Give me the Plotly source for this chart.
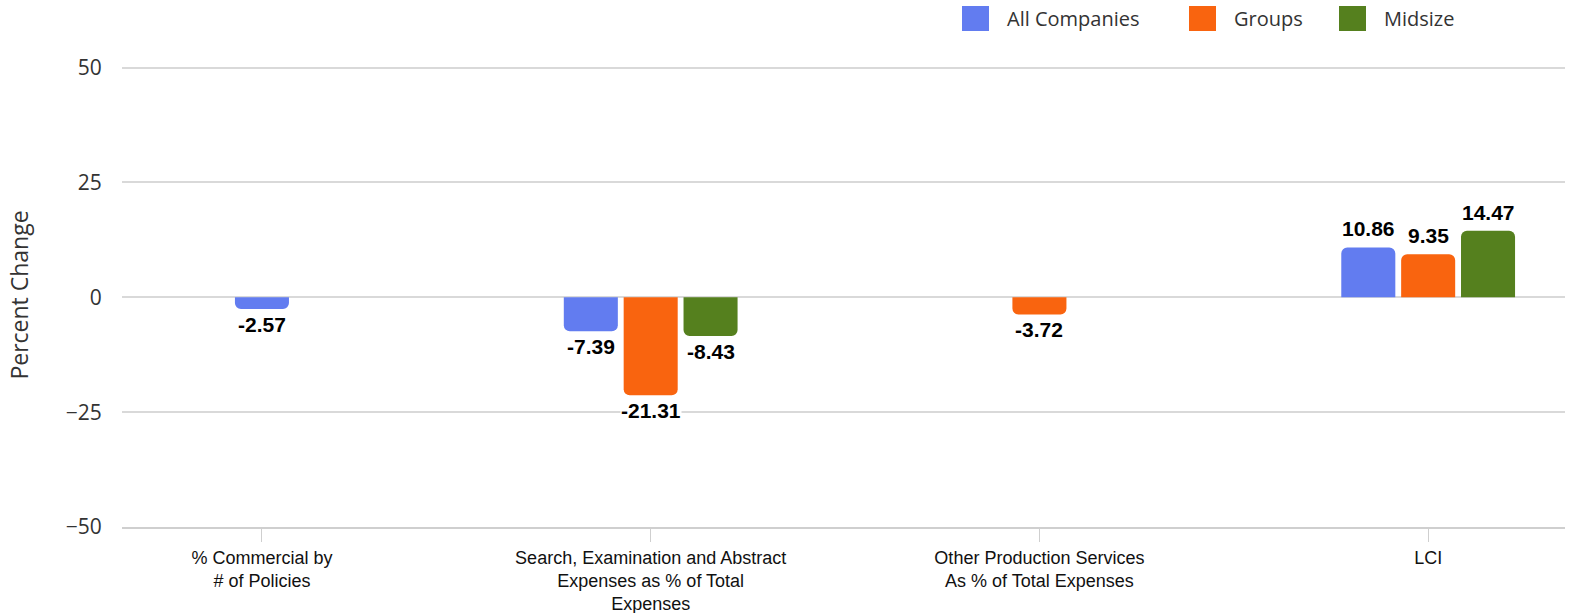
import plotly.graph_objects as go

# Categories and series values (percent change)
categories = [
    "% Commercial by<br># of Policies",
    "Search, Examination and Abstract<br>Expenses as % of Total<br>Expenses",
    "Other Production Services<br>As % of Total Expenses",
    "LCI",
]
series_names = ["All Companies", "Groups", "Midsize"]
all_companies = [-2.57, -7.39, None, 10.86]
groups = [None, -21.31, -3.72, 9.35]
midsize = [None, -8.43, None, 14.47]
series_values = [all_companies, groups, midsize]
series_colors = ["#627CF0", "#F9640F", "#55801E"]
y_ticks = [-50, -25, 0, 25, 50]

W, H = 1574, 613
M_L, M_R, M_T, M_B = 122, 9, 63, 86
PLOT_W = W - M_L - M_R
PLOT_H = H - M_T - M_B

BAR_W = 0.139   # width of one bar in category units
SLOT = 0.154    # spacing between bars within a category

# Bars present in each category are centred on the category
offsets = [[None] * len(categories) for _ in series_values]
for i in range(len(categories)):
    present = [s for s, vals in enumerate(series_values) if vals[i] is not None]
    k = len(present)
    for j, s in enumerate(present):
        offsets[s][i] = (j - (k - 1) / 2) * SLOT - BAR_W / 2

fig = go.Figure()
annotations = []
x_idx = list(range(len(categories)))
for s, (name, vals, color) in enumerate(zip(series_names, series_values, series_colors)):
    xs = [i for i in x_idx if vals[i] is not None]
    ys = [vals[i] for i in xs]
    offs = [offsets[s][i] for i in xs]
    fig.add_trace(go.Bar(
        x=xs, y=ys, name=name, width=BAR_W, offset=offs,
        marker=dict(color=color, line=dict(width=0)),
        showlegend=False, hoverinfo="y",
    ))
    for xi, yv, off in zip(xs, ys, offs):
        annotations.append(dict(
            x=xi + off + BAR_W / 2, y=yv, xref="x", yref="y",
            text=f"<b>{yv:.2f}</b>", showarrow=False,
            yanchor="bottom" if yv >= 0 else "top",
            yshift=6 if yv >= 0 else -3,
            bgcolor="white", borderpad=0,
            font=dict(family="Liberation Sans, Arial", size=21, color="#000000"),
        ))


def px_x(px):
    return (px - M_L) / PLOT_W


def px_y(py):
    return (H - M_B - py) / PLOT_H


# Custom legend: large square swatches with labels
legend_x = [962, 1189, 1339]
for name, color, lx in zip(series_names, series_colors, legend_x):
    fig.add_shape(type="rect", xref="paper", yref="paper",
                  x0=px_x(lx), x1=px_x(lx + 27), y0=px_y(31), y1=px_y(6),
                  fillcolor=color, line=dict(width=0), layer="above")
    annotations.append(dict(
        x=px_x(lx + 43), y=px_y(18.5),
        xref="paper", yref="paper", xanchor="left", yanchor="middle",
        text=name, showarrow=False,
        font=dict(family="Open Sans", size=20, color="#333333"),
    ))

fig.update_layout(
    width=W, height=H,
    margin=dict(l=M_L, r=M_R, t=M_T, b=M_B),
    plot_bgcolor="white", paper_bgcolor="white",
    barmode="overlay",
    barcornerradius=6,
    annotations=annotations,
    xaxis=dict(
        tickmode="array", tickvals=x_idx, ticktext=categories,
        range=[-0.36, 3.352], automargin=False,
        showgrid=False, zeroline=False,
        showline=True, linecolor="#cfcfcf", linewidth=2,
        ticks="outside", ticklen=13, tickwidth=1, tickcolor="#cfcfcf",
        tickfont=dict(family="Liberation Sans, Arial", size=18, color="#111111"),
    ),
    yaxis=dict(
        range=[-50, 51], tickvals=y_ticks, automargin=False,
        showgrid=True, gridcolor="#d9d9d9", gridwidth=1.5,
        zeroline=True, zerolinecolor="#d9d9d9", zerolinewidth=1.5,
        ticks="outside", ticklen=15, tickcolor="rgba(0,0,0,0)",
        tickfont=dict(family="Open Sans", size=21, color="#333333"),
        title=dict(text="Percent Change", standoff=30,
                   font=dict(family="Open Sans", size=23, color="#333333")),
    ),
)

fig.write_html("out.html")
